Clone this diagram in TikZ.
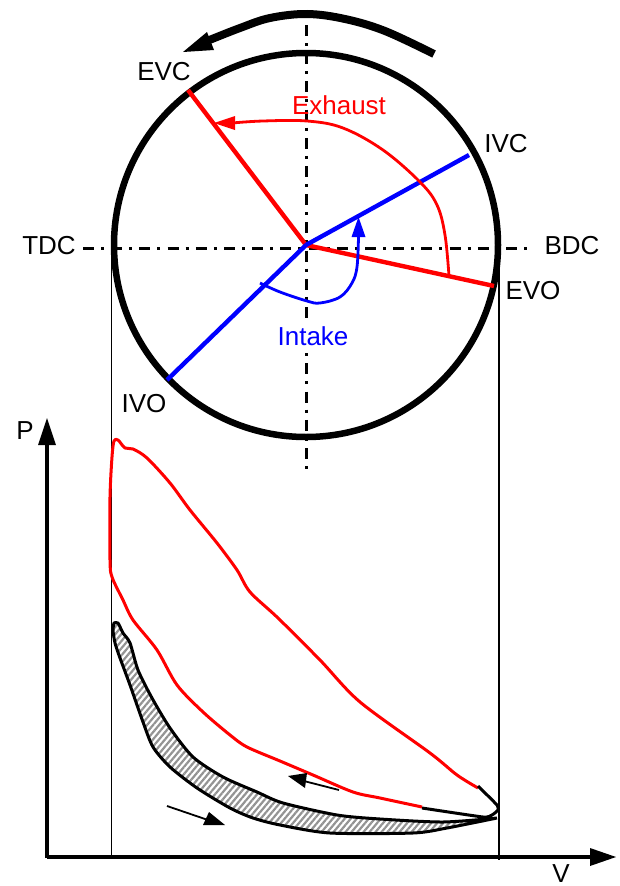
\documentclass[tikz,border=0pt]{standalone}
\usepackage{fontspec}
\setmainfont{Liberation Sans}
\usetikzlibrary{patterns.meta,arrows.meta}
\tikzset{
  lbl/.style={inner sep=0pt,font=\fontsize{26}{28}\selectfont},
  axisline/.style={line width=3pt,dash pattern=on 11pt off 7pt on 3pt off 7.2pt},
  guide/.style={line width=1.8pt},
  crank/.style={line width=4.4pt},
  thincurve/.style={line width=2.8pt,line join=round},
  loopline/.style={line width=3pt,line join=round},
  head/.style={fill,draw=none}
}
\begin{document}
\begin{tikzpicture}[x=1pt,y=-1pt]
\useasboundingbox (0,0) rectangle (619,886);
\fill[white] (0,0) rectangle (619,886);
\coordinate (c) at (306,245);
% hatched loop
\draw[loopline,pattern={Lines[angle=50,distance=4.6pt,line width=2.2pt]},pattern color=gray!85]
 plot[smooth,tension=.45] coordinates {(497,818)(443,822)(380,819)(337,815)(283,803)(257,792)(223,777)(193,757)(170,728)(152,698)(138,670)(130,643)(123,633)(118,623)(114,623)}
 -- plot[smooth,tension=.45] coordinates {(114,623)(113,630)(115,643)(120,658)(130,685)(143,722)(153,747)(170,767)(197,788)(230,808)(253,818)(280,825)(330,833)(413,833)(447,828)(497,818)};
% guides
\draw[guide] (111.5,248) -- (111.5,858);
\draw[guide] (499,248) -- (499,860);
% axes
\draw[axisline] (83,248) -- (527,248);
\draw[axisline] (306.5,25) -- (306.5,470);
% circle
\draw[line width=6.5pt] (c) circle[radius=192];
% plot axes
\draw[line width=4.5pt] (47,858) -- (47,440);
\draw[line width=4.5pt] (47,857) -- (595,857);
\fill (47,418) -- (56,445) -- (38,445) -- cycle;
\fill (616,857) -- (590,848) -- (590,866) -- cycle;
% cranks
\coordinate (evc) at (188,90);
\coordinate (evo) at (494,286);
\coordinate (ivc) at (469,155);
\coordinate (ivo) at (167,380);
\draw[crank,red] (c) -- (evc);
\draw[crank,red] (c) -- (evo);
\draw[crank,blue] (c) -- (ivc);
\draw[crank,blue] (c) -- (ivo);
% exhaust arc
\draw[thincurve,red] plot[smooth,tension=.6] coordinates {(449,276)(445,235)(437,205)(420,182)(383,150)(343,128)(307,121)(263,121)(232,123)};
\fill[red] (214,123) -- (235,116) -- (235,130) -- cycle;
% intake arc
\draw[thincurve,blue] plot[smooth,tension=.6] coordinates {(260,283)(280,292)(307,301)(320,303)(340,297)(352,283)(357,267)(358.5,237)};
\fill[blue] (358.5,217) -- (365.5,237) -- (351.5,237) -- cycle;
% top arrow
\draw[line width=8pt] plot[smooth,tension=.6] coordinates {(434,54)(385,31)(345,19)(307,14)(270,18)(240,28)(207,41)};
\fill (183,52) -- (207,32) -- (214,50) -- cycle;
% red pressure loop
\draw[thincurve,red,line width=3pt] plot[smooth,tension=.5] coordinates {(422,807)(380,798)(353,792)(313,775)(280,761)(247,747)(230,735)(203,712)(177,685)(157,650)(133,620)(123,600)(112,577)(110,560)(110,497)(112,457)(114,441)(118,440)(125,448)(133,449)(147,458)(170,483)(190,510)(217,543)(237,570)(250,592)(278,618)(320,660)(360,702)(430,753)(457,775)(478,788)};
% black end of cycle
\draw[loopline] plot[smooth,tension=.3] coordinates {(422,808)(483,817)(492,815)(498,810)(497,805)(478,786)};
% small arrows
\draw[line width=1.8pt] (339,790) -- (300,780);
\fill (288,776) -- (307,773) -- (305,788) -- cycle;
\draw[line width=1.8pt] (167,806) -- (208,820);
\fill (225,825) -- (203,825) -- (209,812) -- cycle;
% labels
\node[lbl] (levc) at (164,72) {EVC};
\node[lbl,red] (lexh) at (339,105) {Exhaust};
\node[lbl] (livc) at (506,144) {IVC};
\node[lbl] (ltdc) at (49,246) {TDC};
\node[lbl] (lbdc) at (572,246) {BDC};
\node[lbl] (levo) at (533,291) {EVO};
\node[lbl,blue,fill=white,inner ysep=7pt] (lint) at (313,336) {Intake};
\node[lbl] (livo) at (144,404) {IVO};
\node[lbl] (lp) at (25,431) {P};
\node[lbl] (lv) at (561,874) {V};
\end{tikzpicture}
\end{document}
